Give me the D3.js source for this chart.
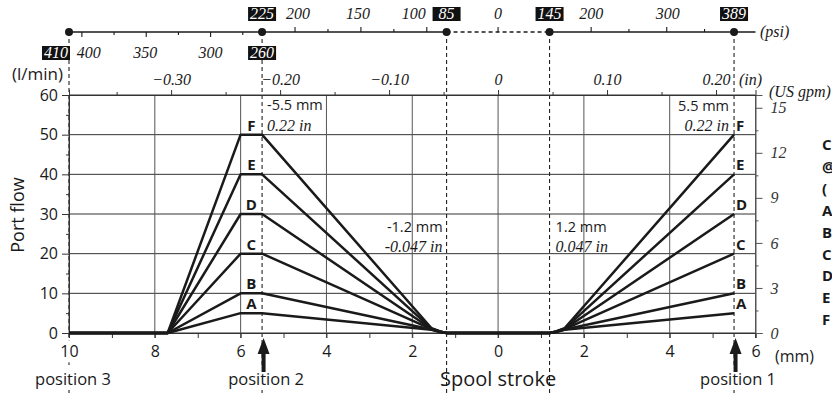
<!DOCTYPE html>
<html><head><meta charset="utf-8">
<script src="https://cdn.jsdelivr.net/npm/d3@7"></script>
<style>body{margin:0;background:#fff}svg{display:block}</style>
</head><body><svg id="c" width="832" height="396"></svg>
<script>
// ---------- data ----------
const curveNames = ["A","B","C","D","E","F"];
const strokeMM = [-10, -7.7, -6, -5.5, -1.55, -1.35, -1.2, 1.2, 1.35, 1.55, 5.5];
const flowA = [0, 0, 5, 5, 0.8, 0.25, 0, 0, 0.25, 0.8, 5];
const flowB = [0, 0, 10, 10, 0.9, 0.3, 0, 0, 0.3, 0.9, 10];
const flowC = [0, 0, 20, 20, 1.0, 0.3, 0, 0, 0.3, 1.0, 20];
const flowD = [0, 0, 30, 30, 1.0, 0.35, 0, 0, 0.35, 1.0, 30];
const flowE = [0, 0, 40, 40, 1.1, 0.35, 0, 0, 0.35, 1.1, 40];
const flowF = [0, 0, 50, 50, 1.2, 0.4, 0, 0, 0.4, 1.2, 50];
const flowSeries = [flowA, flowB, flowC, flowD, flowE, flowF];

const mmTicks = [-10, -8, -6, -4, -2, 0, 2, 4, 6];
const mmMinor = [-9, -7, -5, -3, -1, 1, 3, 5];
const flowTicks = [0, 10, 20, 30, 40, 50, 60];
const flowMinor = [5, 15, 25, 35, 45, 55];
const gpmTicks = [0, 3, 6, 9, 12, 15];
const gpmMinor = [1.5, 4.5, 7.5, 10.5, 13.5];
const inTicks = [-0.30, -0.20, -0.10, 0, 0.10, 0.20];
const inMinor = [-0.35, -0.25, -0.15, -0.05, 0.05, 0.15];

const positionLabels = ["position 3", "position 2", "position 1"];
const positionMM = [-10, -5.5, 5.5];
const arrowMM = [-5.5, 5.5];
const markerMM = [-10, -5.5, -1.2, 1.2, 5.5];

// pressure (psi) scale segments
const psi1Domain = [410, 260], psi1Ticks = [400, 350, 300], psi1Minor = [375, 325, 275];
const psi2Domain = [225, 85],  psi2Ticks = [200, 150, 100], psi2Minor = [175, 125];
const psi4Domain = [145, 389], psi4Ticks = [200, 300],      psi4Minor = [250, 350];
const psiZero = [0];
const psiBoxTop = [225, 85, 145, 389];
const psiBoxTopMM = [-5.5, -1.2, 1.2, 5.5];
const psiBoxBottom = [410, 260];
const psiBoxBottomMM = [-10, -5.5];

const annotMM = ["-5.5 mm", "5.5 mm", "-1.2 mm", "1.2 mm"];
const annotIn = ["0.22 in", "0.22 in", "-0.047 in", "0.047 in"];
const legendChars = ["C", "@", "(", "A", "B", "C", "D", "E", "F"];

// ---------- drawing ----------
const svg = d3.select("#c");
const L = 69, R = 755.5, T = 95, B = 333;
const x = d3.scaleLinear().domain([-10, 6]).range([L, R]);
const y = d3.scaleLinear().domain([0, 60]).range([B, T]);
const yG = d3.scaleLinear().domain([0, 60 / 3.78541]).range([B, T]);
const xIn = d3.scaleLinear().domain([-10 / 25.4, 6 / 25.4]).range([L, R]);

const SANS = "'Open Sans', sans-serif";
const SERIF = "'Liberation Serif', 'Times New Roman', serif";
const INK = "#1a1a1a";

// grid
const g = svg.append("g");
g.selectAll(".hg").data(flowTicks).join("line")
  .attr("x1", L).attr("x2", R).attr("y1", d => y(d)).attr("y2", d => y(d))
  .attr("stroke", "#333").attr("stroke-width", 1);
g.selectAll(".vg").data(mmTicks).join("line")
  .attr("x1", d => x(d)).attr("x2", d => x(d)).attr("y1", T).attr("y2", B + 5)
  .attr("stroke", "#555").attr("stroke-width", 1);

// dashed marker verticals
const PSIY = 32;
svg.append("g").selectAll("line").data(markerMM).join("line")
  .attr("x1", d => x(d)).attr("x2", d => x(d)).attr("y1", PSIY).attr("y2", 396)
  .attr("stroke", "#222").attr("stroke-width", 1.1).attr("stroke-dasharray", "4,3");

// bottom axis
const bax = d3.axisBottom(x).tickValues(mmTicks).tickFormat(d => Math.abs(d)).tickSize(5).tickPadding(8);
const bg = svg.append("g").attr("transform", `translate(0,${B})`).call(bax);
bg.selectAll(".domain").attr("stroke", "#333");
bg.selectAll(".tick line").attr("stroke", "#333");
bg.selectAll("text").attr("font-family", SANS).attr("font-size", 16).attr("fill", INK);
bg.selectAll(".tick").each(function () {
  const t = d3.select(this).select("text").node();
  const bb = t.getBBox();
  d3.select(this).insert("rect", "text").attr("x", bb.x - 1).attr("y", bb.y).attr("width", bb.width + 2)
    .attr("height", bb.height).attr("fill", "#fff");
});
svg.append("g").attr("transform", `translate(0,${B})`)
  .call(d3.axisBottom(x).tickValues(mmMinor).tickFormat("").tickSize(5))
  .call(s => { s.select(".domain").remove(); s.selectAll("line").attr("stroke", "#333"); });

// left axis
const lax = d3.axisLeft(y).tickValues(flowTicks).tickSize(7).tickPadding(4);
const lg = svg.append("g").attr("transform", `translate(${L},0)`).call(lax);
lg.selectAll(".domain").attr("stroke", "#333");
lg.selectAll(".tick line").attr("stroke", "#333");
lg.selectAll("text").attr("font-family", SANS).attr("font-size", 16).attr("fill", INK);
svg.append("g").attr("transform", `translate(${L},0)`)
  .call(d3.axisLeft(y).tickValues(flowMinor).tickFormat("").tickSize(3))
  .call(s => { s.select(".domain").remove(); s.selectAll("line").attr("stroke", "#333"); });

// right axis (US gpm)
const rax = d3.axisRight(yG).tickValues(gpmTicks).tickSize(7).tickPadding(8);
const rg = svg.append("g").attr("transform", `translate(${R},0)`).call(rax);
rg.selectAll(".domain").attr("stroke", "#555");
rg.selectAll(".tick line").attr("stroke", "#555");
rg.selectAll("text").attr("font-family", SERIF).attr("font-style", "italic").attr("font-size", 16).attr("fill", "#333");
svg.append("g").attr("transform", `translate(${R},0)`)
  .call(d3.axisRight(yG).tickValues(gpmMinor).tickFormat("").tickSize(3))
  .call(s => { s.select(".domain").remove(); s.selectAll("line").attr("stroke", "#555"); });

// top axis (in)
const tax = d3.axisTop(xIn).tickValues(inTicks).tickSize(5).tickPadding(5)
  .tickFormat(d => d === 0 ? "0" : d3.format(".2f")(d));
const tg = svg.append("g").attr("transform", `translate(0,${T})`).call(tax);
tg.selectAll(".domain").attr("stroke", "#333");
tg.selectAll(".tick line").attr("stroke", "#333");
tg.selectAll("text").attr("font-family", SERIF).attr("font-style", "italic").attr("font-size", 16).attr("fill", INK);
svg.append("g").attr("transform", `translate(0,${T})`)
  .call(d3.axisTop(xIn).tickValues(inMinor).tickFormat("").tickSize(3))
  .call(s => { s.select(".domain").remove(); s.selectAll("line").attr("stroke", "#333"); });

// curves
const line = d3.line().x(d => x(d[0])).y(d => y(d[1]));
svg.append("g").selectAll("path").data(flowSeries).join("path")
  .attr("d", s => line(strokeMM.map((m, i) => [m, s[i]])))
  .attr("fill", "none").attr("stroke", INK).attr("stroke-width", 2.5)
  .attr("stroke-linejoin", "round");

// curve letters
const peaks = flowSeries.map(s => s[3]);
svg.append("g").selectAll("text").data(curveNames).join("text")
  .attr("x", x(-5.75)).attr("y", (d, i) => y(peaks[i]) - 4)
  .attr("text-anchor", "middle").attr("font-family", SANS).attr("font-weight", 700)
  .attr("font-size", 15).attr("fill", INK).text(d => d);
const ends = flowSeries.map(s => s[s.length - 1]);
svg.append("g").selectAll("text").data(curveNames).join("text")
  .attr("x", x(5.5) + 2).attr("y", (d, i) => y(ends[i]) - 4)
  .attr("font-family", SANS).attr("font-weight", 700)
  .attr("font-size", 15).attr("fill", INK).text(d => d);

// psi axis
const px1 = d3.scaleLinear().domain(psi1Domain).range([x(-10), x(-5.5)]);
const px2 = d3.scaleLinear().domain(psi2Domain).range([x(-5.5), x(-1.2)]);
const px4 = d3.scaleLinear().domain(psi4Domain).range([x(1.2), x(5.5)]);
const pg = svg.append("g");
pg.append("line").attr("x1", x(-10)).attr("x2", x(-1.2)).attr("y1", PSIY).attr("y2", PSIY).attr("stroke", INK).attr("stroke-width", 1.3);
pg.append("line").attr("x1", x(-1.2)).attr("x2", x(1.2)).attr("y1", PSIY).attr("y2", PSIY).attr("stroke", INK).attr("stroke-width", 1.3).attr("stroke-dasharray", "4,3");
pg.append("line").attr("x1", x(1.2)).attr("x2", R).attr("y1", PSIY).attr("y2", PSIY).attr("stroke", INK).attr("stroke-width", 1.3);
function psiTicks(scale, vals, len, dir) {
  pg.append("g").selectAll("line").data(vals).join("line")
    .attr("x1", d => scale(d)).attr("x2", d => scale(d))
    .attr("y1", PSIY).attr("y2", PSIY + dir * len).attr("stroke", INK).attr("stroke-width", 1.1);
}
function psiLabels(scale, vals, yy, shift) {
  pg.append("g").selectAll("text").data(vals).join("text")
    .attr("x", (d, i) => scale(d) + (shift ? shift[i] : 0)).attr("y", yy).attr("text-anchor", "middle")
    .attr("font-family", SERIF).attr("font-style", "italic").attr("font-size", 16).attr("fill", INK)
    .text(d => d);
}
psiTicks(px1, psi1Ticks, 5, 1); psiTicks(px1, psi1Minor, 3, 1);
psiTicks(px2, psi2Ticks, 5, -1); psiTicks(px2, psi2Minor, 3, -1);
psiTicks(px4, psi4Ticks, 5, -1); psiTicks(px4, psi4Minor, 3, -1);
psiTicks(x, psiZero, 5, -1);
psiLabels(px1, psi1Ticks, 58, [7, -1, 0]);
psiLabels(px2, psi2Ticks, 19, [3, -3, -13]);
psiLabels(px4, psi4Ticks, 19, [0, 1]);
psiLabels(x, psiZero, 19);
// boxed psi values
function box(cx, yy, txt, anchorRight) {
  const w = 28, h = 14;
  const x0 = anchorRight ? cx - w : cx - w / 2;
  pg.append("rect").attr("x", x0).attr("y", yy - h + 2).attr("width", w).attr("height", h).attr("fill", "#111");
  pg.append("text").attr("x", x0 + w / 2).attr("y", yy).attr("text-anchor", "middle")
    .attr("font-family", SERIF).attr("font-style", "italic").attr("font-size", 16).attr("fill", "#fff").text(txt);
}
psiBoxTop.forEach((v, i) => box(x(psiBoxTopMM[i]), 19, v, false));
psiBoxBottom.forEach((v, i) => box(i === 0 ? x(psiBoxBottomMM[i]) + 1 : x(psiBoxBottomMM[i]), 58, v, i === 0));
// dots
pg.selectAll("circle").data(markerMM).join("circle")
  .attr("cx", d => x(d)).attr("cy", PSIY).attr("r", 4).attr("fill", INK);

// units
svg.append("text").attr("x", 760).attr("y", 37).attr("font-family", SERIF).attr("font-style", "italic")
  .attr("font-size", 16).attr("fill", INK).text("(psi)");
svg.append("text").attr("x", 739).attr("y", 85).attr("font-family", SERIF).attr("font-style", "italic")
  .attr("font-size", 16).attr("fill", INK).text("(in)");
svg.append("text").attr("x", 769).attr("y", 97).attr("font-family", SERIF).attr("font-style", "italic")
  .attr("font-size", 16).attr("fill", INK).text("(US gpm)");
svg.append("text").attr("x", 63).attr("y", 80).attr("text-anchor", "end").attr("font-family", SANS)
  .attr("font-size", 17).attr("fill", INK).text("(l/min)");
svg.append("text").attr("x", 775).attr("y", 362).attr("font-family", SANS)
  .attr("font-size", 16).attr("fill", INK).text("(mm)");
svg.append("text").attr("transform", "translate(24,215) rotate(-90)").attr("text-anchor", "middle")
  .attr("font-family", SANS).attr("font-size", 18).attr("fill", INK).text("Port flow");

// annotations
const annX = [x(-5.5) + 5, x(5.5) - 5, x(-1.2) - 4, x(1.2) + 6];
const annAnchor = ["start", "end", "end", "start"];
const annY1 = [110, 111, 232, 232];
const annY2 = [131, 131, 252, 252];
annotMM.forEach((t, i) => {
  svg.append("text").attr("x", annX[i]).attr("y", annY1[i]).attr("text-anchor", annAnchor[i])
    .attr("font-family", SANS).attr("font-size", 14.5).attr("fill", INK).text(t);
  svg.append("text").attr("x", annX[i]).attr("y", annY2[i]).attr("text-anchor", annAnchor[i])
    .attr("font-family", SERIF).attr("font-style", "italic").attr("font-size", 16).attr("fill", INK).text(annotIn[i]);
});

// position labels with knock-out background
positionLabels.forEach((t, i) => {
  const cx = x(positionMM[i]) + 4;
  const tx = svg.append("text").attr("x", cx).attr("y", 385).attr("text-anchor", "middle")
    .attr("font-family", SANS).attr("font-size", 16.5).attr("fill", INK).text(t);
  const bb = tx.node().getBBox();
  svg.insert("rect", () => tx.node()).attr("x", bb.x - 1).attr("y", bb.y).attr("width", bb.width + 2).attr("height", bb.height)
    .attr("fill", "#fff");
});
svg.append("text").attr("x", x(0)).attr("y", 386).attr("text-anchor", "middle")
  .attr("font-family", SANS).attr("font-size", 20).attr("fill", INK).text("Spool stroke");

// arrows
svg.append("g").selectAll("path").data(arrowMM).join("path")
  .attr("d", d => { const c = x(d) + 1.5; return `M${c},338 L${c + 6},354 L${c + 2},354 L${c + 2},372 L${c - 2},372 L${c - 2},354 L${c - 6},354 Z`; })
  .attr("fill", INK);

// clipped legend at right edge
svg.append("g").selectAll("text").data(legendChars).join("text")
  .attr("x", 822).attr("y", (d, i) => 150 + i * 21.9)
  .attr("font-family", SANS).attr("font-weight", 700).attr("font-size", 15).attr("fill", INK).text(d => d);
</script></body></html>
